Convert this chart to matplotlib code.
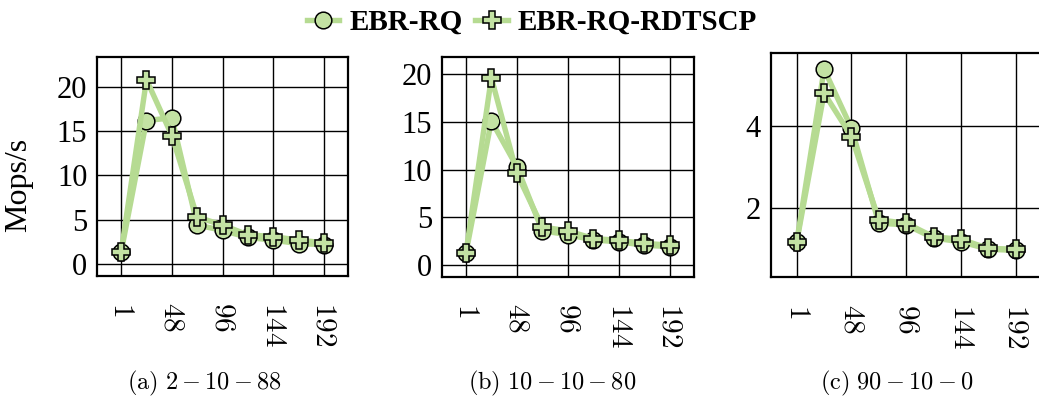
import matplotlib
matplotlib.use("Agg")
import matplotlib.pyplot as plt
from matplotlib.lines import Line2D

plt.rcParams['font.family'] = ['Liberation Serif', 'DejaVu Serif']
plt.rcParams['mathtext.fontset'] = 'cm'

threads = [1, 24, 48, 72, 96, 120, 144, 168, 192]
tick_threads = [1, 48, 96, 144, 192]

# throughput (Mops/s) per workload mix
ebr_rq_a = [1.35, 16.2, 16.5, 4.4, 3.8, 3.0, 2.7, 2.3, 2.2]
rdtscp_a = [1.35, 20.8, 14.5, 5.3, 4.4, 3.3, 3.1, 2.7, 2.4]
ebr_rq_b = [1.25, 15.1, 10.3, 3.6, 3.2, 2.65, 2.45, 2.1, 1.95]
rdtscp_b = [1.25, 19.6, 9.6, 4.0, 3.6, 2.8, 2.6, 2.3, 2.1]
ebr_rq_c = [1.19, 5.37, 3.94, 1.64, 1.6, 1.28, 1.19, 1.01, 0.98]
rdtscp_c = [1.19, 4.79, 3.74, 1.72, 1.64, 1.31, 1.25, 1.03, 1.01]

captions = [r'$\mathrm{(a)}\ 2-10-88$', r'$\mathrm{(b)}\ 10-10-80$', r'$\mathrm{(c)}\ 90-10-0$']
caption_x = [0.197, 0.531, 0.863]

line_color = '#b6db92'
face_color = '#c3e2a3'

fig = plt.figure(figsize=(10.39, 3.98), dpi=100)
boxes = [[0.0934, 0.3065, 0.2416, 0.551],
         [0.4251, 0.3048, 0.2428, 0.5528],
         [0.7418, 0.3033, 0.2608, 0.5643]]
panels = [(ebr_rq_a, rdtscp_a, (-1.35, 23.4), [0, 5, 10, 15, 20]),
          (ebr_rq_b, rdtscp_b, (-1.19, 21.8), [0, 5, 10, 15, 20]),
          (ebr_rq_c, rdtscp_c, (0.33, 5.77), [2, 4])]

idx = list(range(len(threads)))
for i, (box, (rq, rd, ylim, yt), cap, cx) in enumerate(zip(boxes, panels, captions, caption_x)):
    ax = fig.add_axes(box)
    ax.plot(idx, rq, color=line_color, lw=3.9, marker='o', ms=12,
            mfc=face_color, mec='black', mew=1.1, zorder=3)
    ax.plot(idx, rd, color=line_color, lw=3.9, marker='P', ms=13,
            mfc=face_color, mec='black', mew=1.1, zorder=4)
    ax.set_xlim(-0.95, 8.95)
    ax.set_ylim(*ylim)
    ax.set_yticks(yt)
    ax.set_yticklabels([str(v) for v in yt], fontsize=22)
    ticks = [threads.index(t) for t in tick_threads]
    ax.set_xticks(ticks)
    ax.set_xticklabels([f'${t}$' for t in tick_threads], rotation=270,
                       fontsize=21, va='top', ha='center')
    ax.tick_params(axis='x', length=0, pad=19)
    ax.tick_params(axis='y', length=0, pad=7)
    ax.grid(True, color='black', lw=1.0, zorder=1)
    ax.set_axisbelow(True)
    for sp in ax.spines.values():
        sp.set_linewidth(1.6)
    fig.text(cx, 0.037, cap, fontsize=17.5, ha='center', va='center')
    if i == 0:
        ax.set_ylabel('Mops/s', fontsize=23)
        ax.yaxis.set_label_coords(-0.255, 0.415)

handles = [Line2D([], [], color=line_color, lw=3.9, marker='o', ms=12,
                  mfc=face_color, mec='black', mew=1.1),
           Line2D([], [], color=line_color, lw=3.9, marker='P', ms=13,
                  mfc=face_color, mec='black', mew=1.1)]
fig.legend(handles, ['EBR-RQ', 'EBR-RQ-RDTSCP'], loc='center',
           bbox_to_anchor=(0.512, 0.943), ncol=2, frameon=False,
           prop={'weight': 'bold', 'size': 21}, handlelength=1.1,
           handletextpad=0.35, columnspacing=0.45, borderpad=0)

fig.savefig('out.png', dpi=100)
